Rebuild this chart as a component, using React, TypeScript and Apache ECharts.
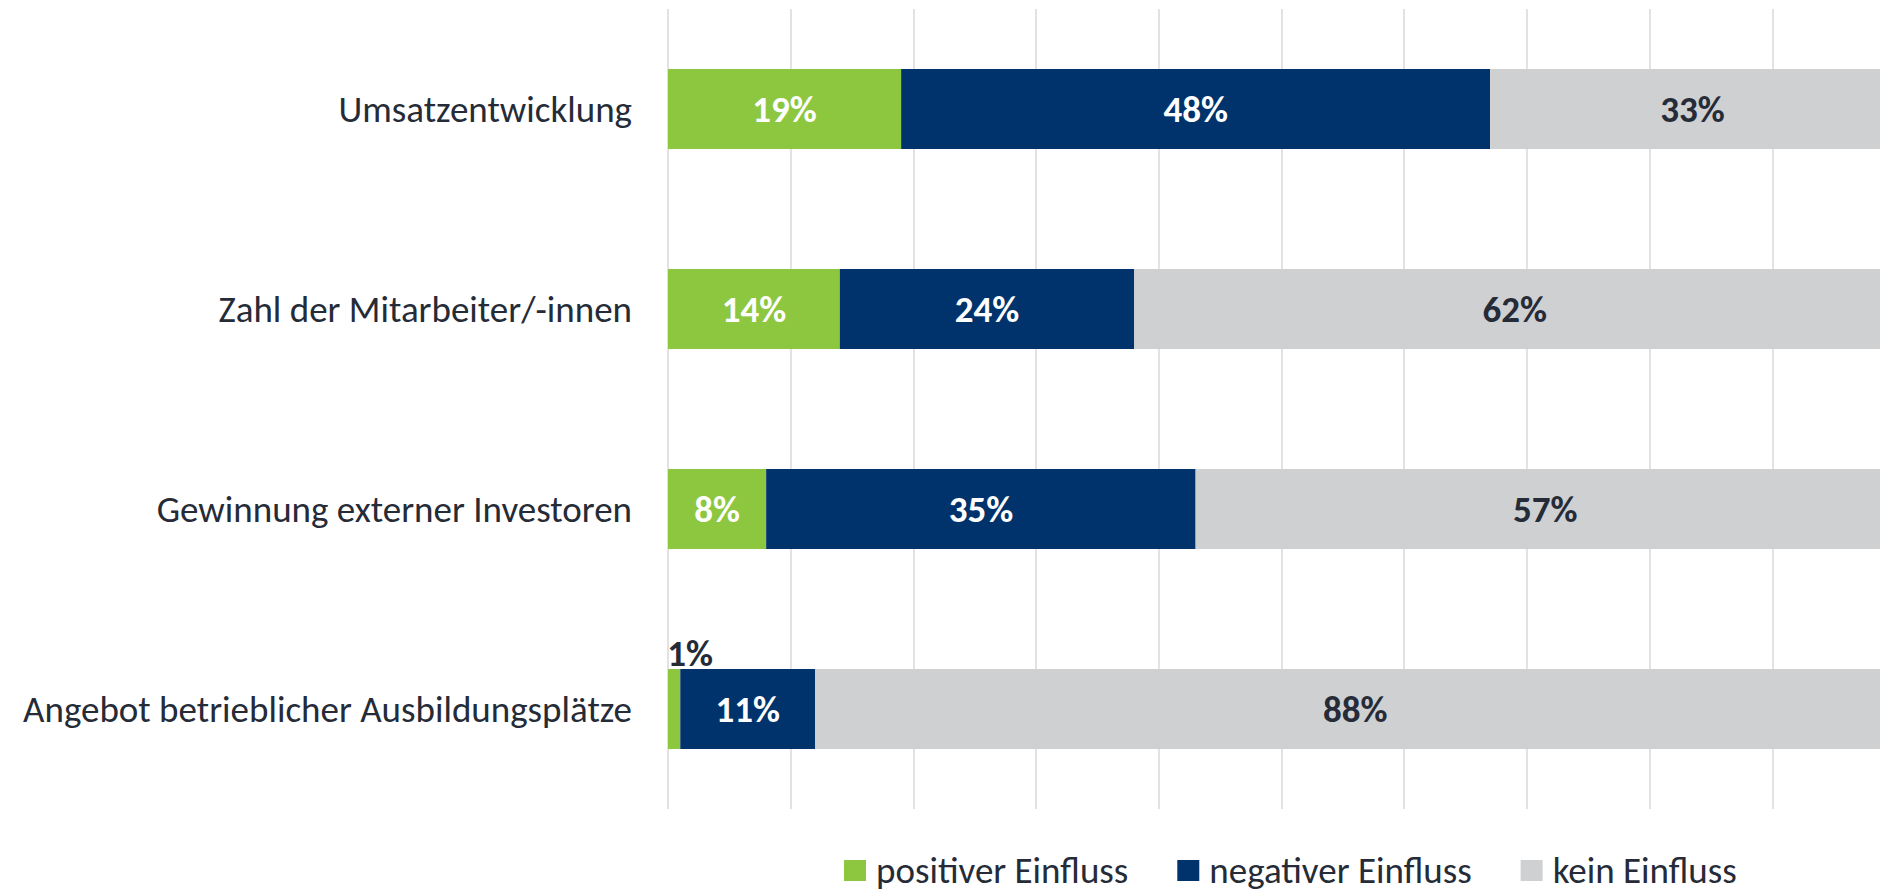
import React, { useEffect, useRef } from "react";
import * as echarts from "echarts";

const categories = [
  "Umsatzentwicklung",
  "Zahl der Mitarbeiter/-innen",
  "Gewinnung externer Investoren",
  "Angebot betrieblicher Ausbildungsplätze",
];
const seriesNames = ["positiver Einfluss", "negativer Einfluss", "kein Einfluss"];
const positiveValues = [19, 14, 8, 1];
const negativeValues = [48, 24, 35, 11];
const noneValues = [33, 62, 57, 88];

const FONT = "Carlito, Calibri, Lato, 'Open Sans', sans-serif";
const DARK = "#252b37";

export default function App() {
  const ref = useRef<HTMLDivElement>(null);
  useEffect(() => {
    if (!ref.current) return;
    const chart = echarts.init(ref.current, undefined, { renderer: "svg" });
    const labelBase = {
      show: true,
      position: "inside",
      formatter: "{c}%",
      fontFamily: FONT,
      fontWeight: "bold",
      fontSize: 37,
    };
    const mk = (name: string, values: number[], color: string, labelColor: string) => ({
      name,
      type: "bar",
      stack: "total",
      barWidth: "40%",
      itemStyle: { color },
      label: { ...labelBase, color: labelColor },
      data: values.map((v) =>
        v < 3
          ? {
              value: v,
              label: { position: "top", color: DARK, distance: 0, offset: [16, 3] },
            }
          : v
      ),
    });
    chart.setOption({
      animation: false,
      textStyle: { fontFamily: FONT },
      grid: { left: 668, top: 9, right: 5, height: 800 },
      xAxis: {
        type: "value",
        min: 0,
        max: 100,
        interval: 10,
        axisLabel: { show: false },
        axisLine: { show: false },
        axisTick: { show: false },
        splitLine: { lineStyle: { color: "#d9d9d9", width: 1.5 } },
      },
      yAxis: {
        type: "category",
        inverse: true,
        data: categories,
        axisLine: { show: false },
        axisTick: { show: false },
        axisLabel: { fontFamily: FONT, fontSize: 37, color: DARK, margin: 36 },
      },
      legend: {
        data: seriesNames,
        left: 844,
        top: 852,
        padding: 0,
        itemWidth: 22,
        itemHeight: 21,
        itemGap: 49,
        icon: "rect",
        textStyle: { fontFamily: FONT, fontSize: 37, color: DARK, padding: [0, 0, 0, 5] },
      },
      series: [
        mk(seriesNames[0], positiveValues, "#8dc63f", "#ffffff"),
        mk(seriesNames[1], negativeValues, "#00336b", "#ffffff"),
        mk(seriesNames[2], noneValues, "#cfd0d2", DARK),
      ],
    });
    return () => chart.dispose();
  }, []);
  return (
    <div
      ref={ref}
      style={{ position: "fixed", left: 0, top: 0, width: 1900, height: 895, background: "#fff" }}
    />
  );
}
